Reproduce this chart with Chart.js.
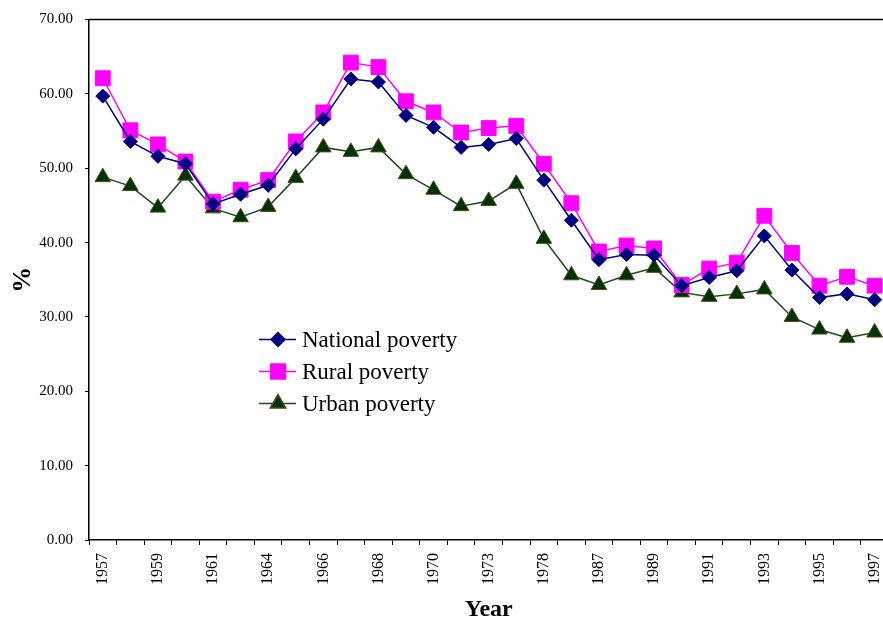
<!DOCTYPE html>
<html>
<head>
<meta charset="utf-8">
<script src="https://cdn.jsdelivr.net/npm/chart.js@4.4.0/dist/chart.umd.min.js"></script>
<style>
  html, body { margin: 0; padding: 0; background: #fff; overflow: hidden; }
  #wrap { width: 902px; height: 622px; }
</style>
</head>
<body>
<div id="wrap"><canvas id="grafico" width="902" height="622"></canvas></div>
<script>
const anos = [
  "1957", "1958", "1959", "1960", "1961", "1963", "1964", "1965", "1966", "1967",
  "1968", "1969", "1970", "1972", "1973", "1977", "1978", "1983", "1987", "1988",
  "1989", "1990", "1991", "1992", "1993", "1994", "1995", "1996", "1997"
];

const nacional = [
  59.7, 53.6, 51.6, 50.6, 45.2, 46.5, 47.7, 52.6, 56.6, 62.0,
  61.6, 57.1, 55.5, 52.8, 53.2, 54.0, 48.4, 43.0, 37.7, 38.4,
  38.3, 34.2, 35.3, 36.2, 40.9, 36.3, 32.6, 33.1, 32.3
];

const rural = [
  62.1, 55.1, 53.2, 50.9, 45.5, 47.1, 48.4, 53.6, 57.5, 64.2,
  63.6, 59.0, 57.5, 54.8, 55.4, 55.7, 50.6, 45.3, 38.8, 39.6,
  39.2, 34.3, 36.5, 37.3, 43.6, 38.6, 34.2, 35.4, 34.2
];

const urbana = [
  48.8, 47.6, 44.7, 49.0, 44.6, 43.4, 44.8, 48.7, 52.8, 52.2,
  52.8, 49.2, 47.1, 44.9, 45.6, 47.9, 40.5, 35.6, 34.3, 35.6,
  36.6, 33.3, 32.7, 33.1, 33.7, 30.0, 28.3, 27.2, 27.9
];

const fonte = '"Liberation Serif", "Times New Roman", serif';

// borda superior da área do gráfico
const bordaTopo = {
  id: "bordaTopo",
  afterDraw(chart) {
    const { ctx, chartArea } = chart;
    ctx.save();
    ctx.strokeStyle = "#000";
    ctx.lineWidth = 1.5;
    ctx.beginPath();
    ctx.moveTo(chartArea.left, chartArea.top);
    ctx.lineTo(chartArea.right, chartArea.top);
    ctx.stroke();
    ctx.restore();
  }
};

// legenda desenhada dentro da área do gráfico
const legendaInterna = {
  id: "legendaInterna",
  afterDraw(chart) {
    const { ctx, chartArea } = chart;
    const x0 = chartArea.left + 170;
    const y0 = chartArea.top + 320;
    ctx.save();
    ctx.font = "23px " + fonte;
    ctx.textBaseline = "middle";
    chart.data.datasets.forEach((ds, i) => {
      const y = y0 + i * 32;
      ctx.strokeStyle = ds.borderColor;
      ctx.lineWidth = 1.5;
      ctx.beginPath();
      ctx.moveTo(x0, y);
      ctx.lineTo(x0 + 37, y);
      ctx.stroke();
      ctx.fillStyle = ds.pointBackgroundColor;
      ctx.strokeStyle = ds.pointBorderColor;
      Chart.helpers.drawPoint(ctx, {
        pointStyle: ds.pointStyle,
        radius: ds.pointRadius,
        borderWidth: 1,
        rotation: 0
      }, x0 + 19, y);
      ctx.fillStyle = "#000";
      ctx.fillText(ds.label, x0 + 43, y + 1);
    });
    ctx.restore();
  }
};

new Chart(document.getElementById("grafico"), {
  type: "line",
  data: {
    labels: anos,
    datasets: [
      {
        label: "National poverty",
        data: nacional,
        borderColor: "#000080",
        borderWidth: 1.5,
        pointStyle: "rectRot",
        pointRadius: 7,
        pointBackgroundColor: "#000080",
        pointBorderColor: "#000080",
        pointBorderWidth: 1
      },
      {
        label: "Rural poverty",
        data: rural,
        borderColor: "#FF00FF",
        borderWidth: 1.5,
        pointStyle: "rect",
        pointRadius: 10.5,
        pointBackgroundColor: "#FF00FF",
        pointBorderColor: "#FF00FF",
        pointBorderWidth: 1
      },
      {
        label: "Urban poverty",
        data: urbana,
        borderColor: "#1E4A1E",
        borderWidth: 1.5,
        pointStyle: "triangle",
        pointRadius: 9,
        pointBackgroundColor: "#003300",
        pointBorderColor: "#4A4A20",
        pointBorderWidth: 1
      }
    ]
  },
  options: {
    responsive: false,
    animation: false,
    layout: { padding: { top: 14, right: 3, left: 0, bottom: 0 } },
    plugins: {
      legend: { display: false },
      tooltip: { enabled: false }
    },
    scales: {
      x: {
        offset: true,
        grid: {
          offset: true,
          drawOnChartArea: false,
          drawTicks: true,
          tickLength: 5,
          color: "#000",
          lineWidth: 1
        },
        border: { display: true, color: "#000", width: 1.5 },
        ticks: {
          autoSkip: false,
          minRotation: 90,
          maxRotation: 90,
          padding: 8,
          color: "#000",
          font: { family: fonte, size: 16 },
          callback(value, index) {
            return index % 2 === 0 ? this.getLabelForValue(value) : "";
          }
        },
        title: {
          display: true,
          text: "Year",
          color: "#000",
          font: { family: fonte, size: 24, weight: "bold", lineHeight: 1 },
          padding: { top: 4, bottom: 0 }
        },
        afterFit(scale) { scale.height = 82; }
      },
      y: {
        min: 0,
        max: 70,
        grid: {
          drawOnChartArea: false,
          drawTicks: true,
          tickLength: 4,
          color: "#000",
          lineWidth: 1
        },
        border: { display: true, color: "#000", width: 1.5 },
        ticks: {
          stepSize: 10,
          padding: 12,
          color: "#000",
          font: { family: fonte, size: 15, lineHeight: 1 },
          callback: v => v.toFixed(2)
        },
        title: {
          display: true,
          text: "%",
          color: "#000",
          font: { family: fonte, size: 26, weight: "bold", lineHeight: 1 },
          padding: { top: 10, bottom: 4 }
        },
        afterFit(scale) { scale.width = 89; }
      }
    }
  },
  plugins: [bordaTopo, legendaInterna]
});
</script>
</body>
</html>
